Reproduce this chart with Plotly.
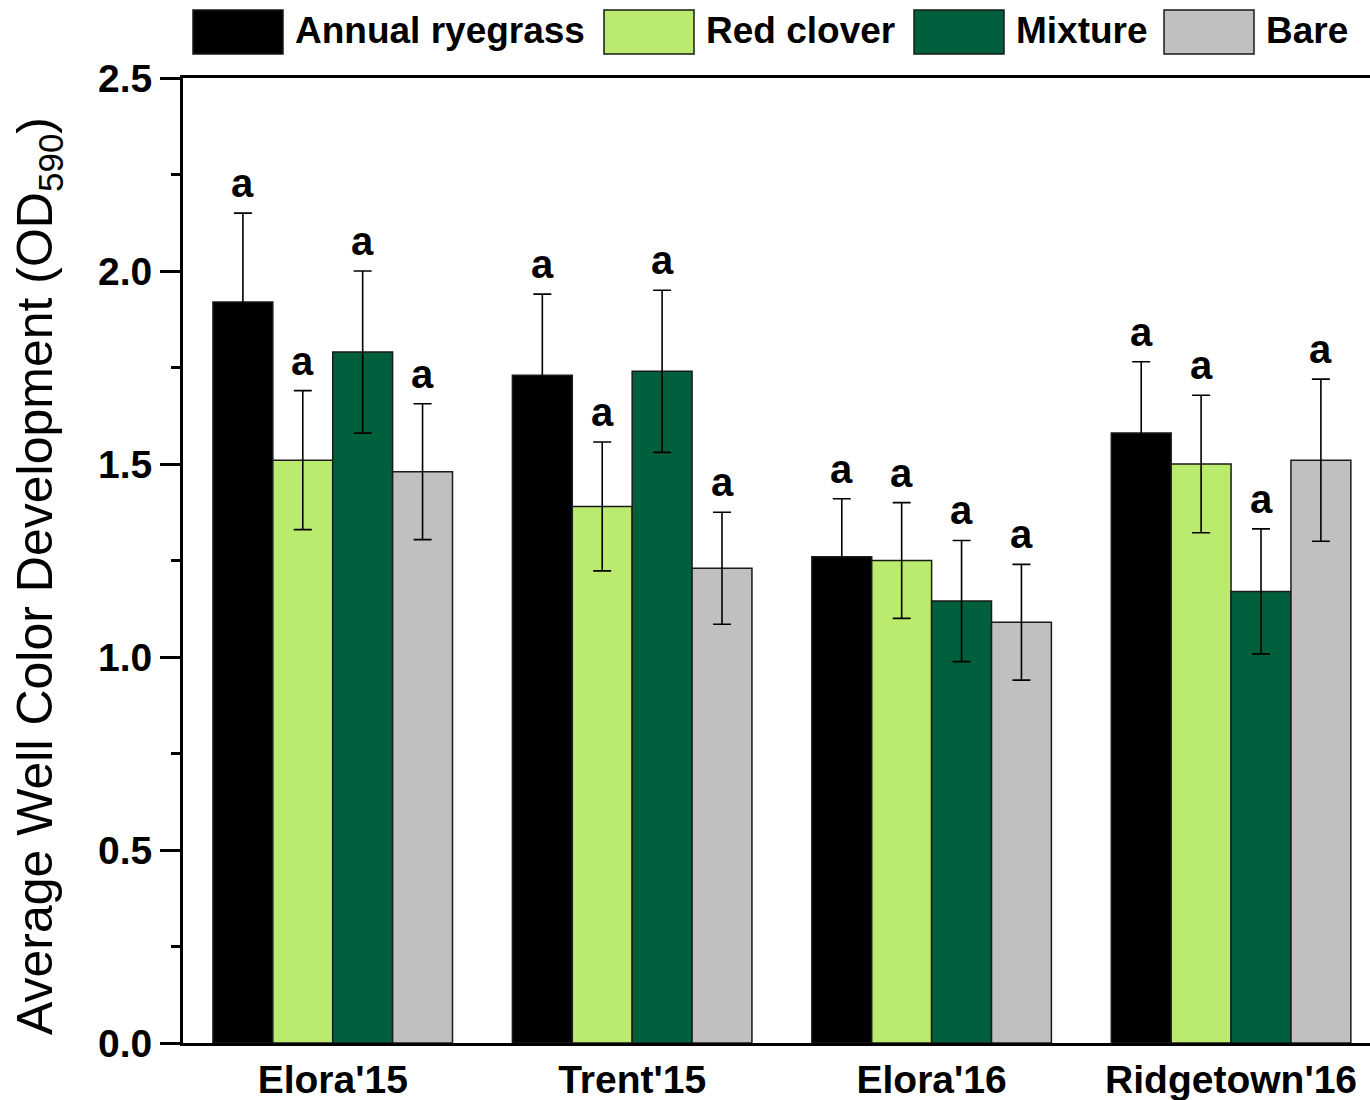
import plotly.graph_objects as go

# Sites and treatments
sites = ["Elora'15", "Trent'15", "Elora'16", "Ridgetown'16"]
treatments = ["Annual ryegrass", "Red clover", "Mixture", "Bare"]
colors = ["#000000", "#BBEB6E", "#005F3C", "#C0C0C0"]

# Average well colour development (OD590), one list per treatment (ordered by site)
ryegrass = [1.92, 1.73, 1.26, 1.58]
red_clover = [1.51, 1.39, 1.25, 1.50]
mixture = [1.79, 1.74, 1.145, 1.17]
bare = [1.48, 1.23, 1.09, 1.51]

# Standard errors
ryegrass_se = [0.23, 0.21, 0.15, 0.185]
red_clover_se = [0.18, 0.167, 0.15, 0.178]
mixture_se = [0.21, 0.21, 0.157, 0.162]
bare_se = [0.176, 0.145, 0.15, 0.21]

# Significance letters
ryegrass_lbl = ["a", "a", "a", "a"]
red_clover_lbl = ["a", "a", "a", "a"]
mixture_lbl = ["a", "a", "a", "a"]
bare_lbl = ["a", "a", "a", "a"]

means = [ryegrass, red_clover, mixture, bare]
errors = [ryegrass_se, red_clover_se, mixture_se, bare_se]
letters = [ryegrass_lbl, red_clover_lbl, mixture_lbl, bare_lbl]

W, H = 1370, 1100
ML, MR, MT, MB = 183, 0, 78, 57
BAR_W = 0.2
FONT = "Liberation Sans, Arial, sans-serif"

fig = go.Figure()
annotations = []
for j, name in enumerate(treatments):
    xs = [i + (j - 1.5) * BAR_W for i in range(len(sites))]
    fig.add_trace(go.Bar(
        x=xs, y=means[j], width=BAR_W, name=name,
        marker=dict(color=colors[j], line=dict(color="#1a1a1a", width=1.5)),
        error_y=dict(type="data", array=errors[j], visible=True,
                     color="#000000", thickness=1.6, width=9),
        showlegend=False,
    ))
    for x, m, e, t in zip(xs, means[j], errors[j], letters[j]):
        annotations.append(dict(
            x=x, y=m + e, xref="x", yref="y", text=t, showarrow=False,
            xanchor="center", yanchor="bottom", yshift=6,
            font=dict(family=FONT, size=40, color="#000000", weight="bold"),
        ))

# Pixel -> paper helpers for elements placed outside the plot area
plot_w = W - ML - MR
plot_h = H - MT - MB
def px_x(p):
    return (p - ML) / plot_w
def px_y(p):
    return (H - MB - p) / plot_h

# Legend drawn as large swatches above the plot area
shapes = []
swatch_left = [193, 604, 914, 1164]
for j, name in enumerate(treatments):
    x0 = swatch_left[j]
    shapes.append(dict(
        type="rect", xref="paper", yref="paper",
        x0=px_x(x0), x1=px_x(x0 + 90), y0=px_y(54), y1=px_y(10),
        fillcolor=colors[j], line=dict(color="#1a1a1a", width=1.5),
    ))
    annotations.append(dict(
        x=px_x(x0 + 100), y=px_y(31), xref="paper", yref="paper",
        text=name, showarrow=False, xanchor="left", yanchor="middle",
        font=dict(family=FONT, size=37, color="#000000", weight="bold"),
    ))

# Y-axis title
annotations.append(dict(
    x=px_x(38), y=px_y(576), xref="paper", yref="paper",
    text="Average Well Color Development (OD<sub>590</sub>)",
    textangle=-90, showarrow=False, xanchor="center", yanchor="middle",
    font=dict(family=FONT, size=50, color="#000000"),
))

fig.update_layout(
    width=W, height=H,
    margin=dict(l=ML, r=MR, t=MT, b=MB, pad=0),
    paper_bgcolor="white", plot_bgcolor="white",
    barmode="overlay",
    shapes=shapes, annotations=annotations,
    font=dict(family=FONT, color="#000000"),
)
fig.update_xaxes(
    range=[-0.5, 3.464], tickvals=list(range(len(sites))), ticktext=sites,
    showline=True, linecolor="#000000", linewidth=3, mirror=True,
    ticks="", showgrid=False, zeroline=False,
    tickfont=dict(family=FONT, size=39, color="#000000", weight="bold"),
)
fig.update_yaxes(
    range=[0, 2.5], dtick=0.5, tickformat=".1f",
    showline=True, linecolor="#000000", linewidth=3,
    ticks="outside", ticklen=20, tickwidth=2.5, tickcolor="#000000",
    minor=dict(dtick=0.25, ticks="outside", ticklen=9, tickwidth=2.5, tickcolor="#000000"),
    showgrid=False, zeroline=False,
    tickfont=dict(family=FONT, size=39, color="#000000", weight="bold"),
)

fig.write_html("out.html")
